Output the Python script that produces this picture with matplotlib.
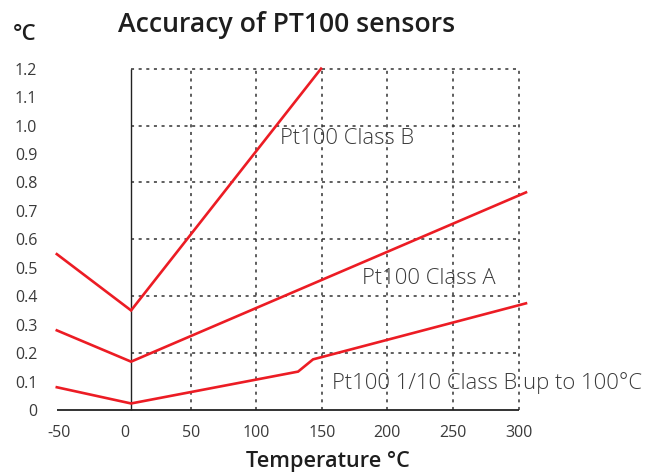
import matplotlib
matplotlib.use("Agg")
import matplotlib.pyplot as plt

# ---- data ----
class_b_x = [-52, 4.6, 149.4]
class_b_y = [0.548, 0.35, 1.2]
class_a_x = [-52, 4.6, 305.6]
class_a_y = [0.28, 0.17, 0.765]
tenth_b_x = [-52, 4.6, 131.9, 143.3, 305.6]
tenth_b_y = [0.08, 0.023, 0.135, 0.178, 0.375]

x_ticks = [-50, 0, 50, 100, 150, 200, 250, 300]
y_ticks = [0, 0.1, 0.2, 0.3, 0.4, 0.5, 0.6, 0.7, 0.8, 0.9, 1.0, 1.1, 1.2]
y_tick_labels = ["0", "0.1", "0.2", "0.3", "0.4", "0.5", "0.6", "0.7", "0.8", "0.9", "1.0", "1.1", "1.2"]
grid_x = [50, 100, 150, 200, 250, 300]
grid_y = [0.2, 0.4, 0.6, 0.8, 1.0, 1.2]

labels = ["Pt100 Class B", "Pt100 Class A", "Pt100 1/10 Class B up to 100°C"]
label_pos = [(118, 0.956), (180.6, 0.464), (157.8, 0.096)]

plt.rcParams['font.family'] = ['Open Sans', 'DejaVu Sans']

fig = plt.figure(figsize=(6.56, 4.74), dpi=100)
ax = fig.add_axes([0.0706, 0.123, 0.760, 0.7622])
ax.set_xlim(-60, 320)
ax.set_ylim(-0.02, 1.25)

for s in ax.spines.values():
    s.set_visible(False)

red = "#ec1c24"
dot = (0, (2, 3))
ax.hlines(grid_y, 4.6, 300, colors="#333333", linestyles=dot, linewidth=1.1, zorder=1)
ax.vlines(grid_x, 0, 1.2, colors="#333333", linestyles=dot, linewidth=1.1, zorder=1)
ax.hlines([0], -52, 300, colors="#222222", linewidth=1.3, zorder=2)
ax.vlines([4.6], 0, 1.2, colors="#222222", linewidth=1.0, zorder=2)

for xs, ys in [(class_b_x, class_b_y), (class_a_x, class_a_y), (tenth_b_x, tenth_b_y)]:
    ax.plot(xs, ys, color=red, linewidth=1.9, solid_joinstyle="miter", zorder=3, clip_on=False)

for t, (x, y) in zip(labels, label_pos):
    ax.text(x, y, t, fontsize=15.8, color="#3a3a3a", ha="left", va="center",
            fontweight="light", clip_on=False, zorder=4)

ax.set_xticks(x_ticks)
ax.set_xticklabels([str(v) for v in x_ticks])
ax.set_yticks(y_ticks)
ax.set_yticklabels(y_tick_labels)
ax.tick_params(length=0, labelsize=11.5, labelcolor="#3a3a3a")
ax.tick_params(axis="y", pad=6.5)
ax.tick_params(axis="x", pad=7)

fig.text(0.18, 0.948, "Accuracy of PT100 sensors", fontsize=19.2, fontweight="semibold",
         color="#1e1e1e", ha="left", va="center")
fig.text(0.02, 0.928, "°C", fontsize=16, fontweight="semibold", color="#1e1e1e",
         ha="left", va="center")
fig.text(0.5, 0.027, "Temperature °C", fontsize=15.6, fontweight="semibold",
         color="#1e1e1e", ha="center", va="center")

fig.savefig("out.png", dpi=100)
